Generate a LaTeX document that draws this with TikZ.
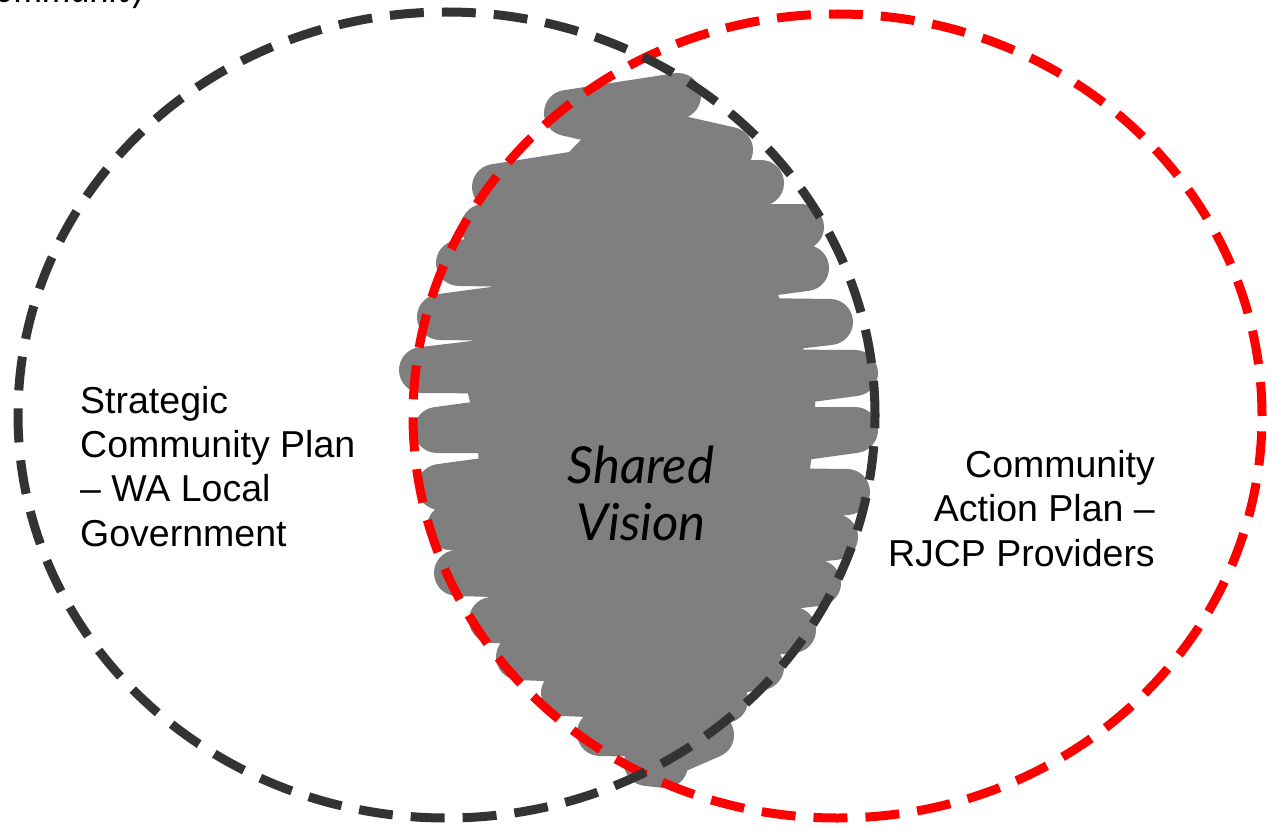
\documentclass[tikz,border=0pt]{standalone}
\usepackage{fontspec}
\setmainfont{Liberation Sans}
\newfontfamily\handfont{Lato}
\usetikzlibrary{shapes.geometric}
\definecolor{darkring}{HTML}{333333}
\definecolor{redring}{HTML}{FF0000}
\definecolor{scribblegray}{HTML}{7F7F7F}
\tikzset{
  ringstyle/.style={ellipse, inner sep=0pt, line width=9pt, dash pattern=on 34pt off 18pt},
  scribblestroke/.style={draw=scribblegray, line width=46pt, line cap=round, line join=round},
  labeltext/.style={inner sep=0pt, font=\fontsize{37.5}{44.3}\selectfont},
  handtext/.style={inner sep=0pt, font=\handfont\itshape\fontsize{51}{57}\selectfont},
  cuthandtext/.style={inner sep=0pt, font=\handfont\itshape\fontsize{36}{40}\selectfont},
}
\begin{document}
\begin{tikzpicture}[x=1pt, y=-1pt]
\useasboundingbox (0,0) rectangle (1268,829);
\fill[white] (0,0) rectangle (1268,829);
% partially visible handwritten text at the top-left corner
\begin{scope}
\clip (0,0) rectangle (1268,829);
\node[cuthandtext, anchor=base west] (cuttext) at (-26,3) {Community};
\end{scope}
% gray scribble: filled core plus zig-zag strokes
\fill[scribblegray]
  (638,96) -- (690,150) -- (721,183) -- (761,227) -- (766,268) -- (790,322)
  -- (815,373) -- (815,430) -- (807,492) -- (795,537) -- (778,583) -- (753,630)
  -- (721,667) -- (685,700) -- (671,735) -- (655,765)
  -- (640,733) -- (604,693) -- (559,657) -- (532,620) -- (497,573) -- (490,527)
  -- (480,487) -- (477,430) -- (462,370) -- (480,317) -- (499,263) -- (524,227)
  -- (535,187) -- (607,113) -- cycle;
\draw[scribblestroke]
  (678,96) -- (567,113) -- (730,150) -- (495,187) -- (761,183) -- (484,227)
  -- (801,227) -- (459,263) -- (806,268) -- (440,317) -- (830,322) -- (422,370)
  -- (855,373) -- (437,430) -- (855,430) -- (440,487) -- (847,492) -- (450,527)
  -- (835,537) -- (457,573) -- (818,583) -- (492,620) -- (793,630) -- (519,657)
  -- (761,667) -- (564,693) -- (725,700) -- (600,733) -- (711,735) -- (647,763)
  -- (665,765);
% rings
\node[ringstyle, draw=redring, minimum width=849pt, minimum height=804pt] (rightring) at (837.5,416) {};
\node[ringstyle, draw=darkring, minimum width=857pt, minimum height=806pt] (leftring) at (446.5,415) {};
% texts (base anchor = baseline of the last line)
\node[labeltext, anchor=base west, align=left] (lefttext) at (80,546)
  {Strategic\\Community Plan\\– WA Local\\Government};
\node[labeltext, anchor=base east, align=right] (righttext) at (1155,566)
  {Community\\Action Plan –\\RJCP Providers};
\node[handtext, align=center, anchor=base] (vision) at (641,540) {Shared\\Vision};
\end{tikzpicture}
\end{document}
